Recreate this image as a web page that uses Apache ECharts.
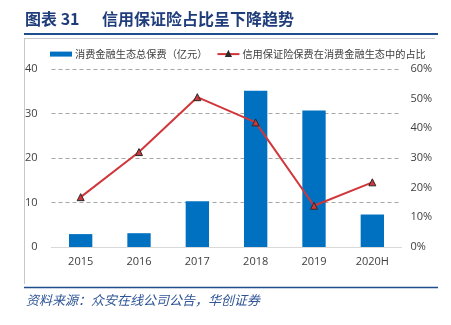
<!DOCTYPE html>
<html><head><meta charset="utf-8">
<script src="https://cdn.jsdelivr.net/npm/echarts@6/dist/echarts.min.js"></script>
<style>html,body{margin:0;padding:0;background:#fff}#c{width:451px;height:325px}</style>
</head><body><div id="c"></div>
<script>
var categories = ['2015','2016','2017','2018','2019','2020H'];
var premiumTotal = [2.9, 3.1, 10.3, 35.1, 30.7, 7.3];
var creditShare = [16.8, 32.0, 50.5, 42.0, 13.9, 21.8];
var leftTicks = {min:0, max:40, interval:10};
var rightTicks = {min:0, max:60, interval:10};
var seriesNames = ['消费金融生态总保费（亿元）', '信用保证险保费在消费金融生态中的占比'];

var chart = echarts.init(document.getElementById('c'), null, {renderer:'canvas'});
var fontCN = '"Noto Sans CJK SC", "Microsoft YaHei", sans-serif';
var fontNum = '"Open Sans", "Noto Sans", sans-serif';
chart.setOption({
  animation:false,
  backgroundColor:'#fff',
  textStyle:{fontFamily:fontCN},
  graphic:[
    {type:'text', left:25, top:11, style:{text:'图表 31', font:'bold 16px '+fontCN, fill:'#1F3D7A'}},
    {type:'text', left:102, top:11, style:{text:'信用保证险占比呈下降趋势', font:'bold 16px '+fontCN, fill:'#1F3D7A'}},
    {type:'line', shape:{x1:24,y1:34,x2:438,y2:34}, style:{stroke:'#1F4E8C', lineWidth:2}},
    {type:'line', shape:{x1:24,y1:38.5,x2:435,y2:38.5}, style:{stroke:'#C8C8C8', lineWidth:1}},
    {type:'line', shape:{x1:24.5,y1:38,x2:24.5,y2:284}, style:{stroke:'#C8C8C8', lineWidth:1}},
    {type:'line', shape:{x1:24,y1:287.5,x2:438,y2:287.5}, style:{stroke:'#1F4E8C', lineWidth:1.5}},
    {type:'text', left:26, top:294, style:{text:'资料来源：众安在线公司公告，华创证券', font:'italic 13px '+fontCN, fill:'#2F5597'}}
  ],
  legend:{
    left:45, top:44, width:400, itemGap:9, itemWidth:22, itemHeight:5,
    textStyle:{fontSize:10.2, color:'#404040', fontFamily:fontCN, padding:[0,0,0,-2]},
    data:[{name:seriesNames[0], icon:'rect'}, {name:seriesNames[1]}]
  },
  grid:{left:51.5, right:49.5, top:69, bottom:78},
  xAxis:{
    type:'category', data:categories,
    axisLine:{lineStyle:{color:'#D9D9D9'}}, axisTick:{show:false},
    axisLabel:{color:'#404040', fontSize:11, fontFamily:fontNum, margin:9}
  },
  yAxis:[
    {type:'value', min:leftTicks.min, max:leftTicks.max, interval:leftTicks.interval,
     axisLine:{show:false}, axisTick:{show:false},
     axisLabel:{color:'#404040', fontSize:11, fontFamily:fontNum, margin:14},
     splitLine:{lineStyle:{color:'#A6A6A6', type:[4,3]}}},
    {type:'value', min:rightTicks.min, max:rightTicks.max, interval:rightTicks.interval,
     axisLine:{show:false}, axisTick:{show:false},
     axisLabel:{color:'#404040', fontSize:11, fontFamily:fontNum, margin:9, formatter:'{value}%'},
     splitLine:{show:false}}
  ],
  series:[
    {name:seriesNames[0], type:'bar', data:premiumTotal, barWidth:'40%', yAxisIndex:0,
     itemStyle:{color:'#0070C0'}},
    {name:seriesNames[1], type:'line', data:creditShare, yAxisIndex:1,
     symbol:'triangle', symbolSize:7,
     lineStyle:{color:'#D0363A', width:2},
     itemStyle:{color:'#D0363A', borderColor:'#2A2A2A', borderWidth:1}}
  ]
});
</script></body></html>
